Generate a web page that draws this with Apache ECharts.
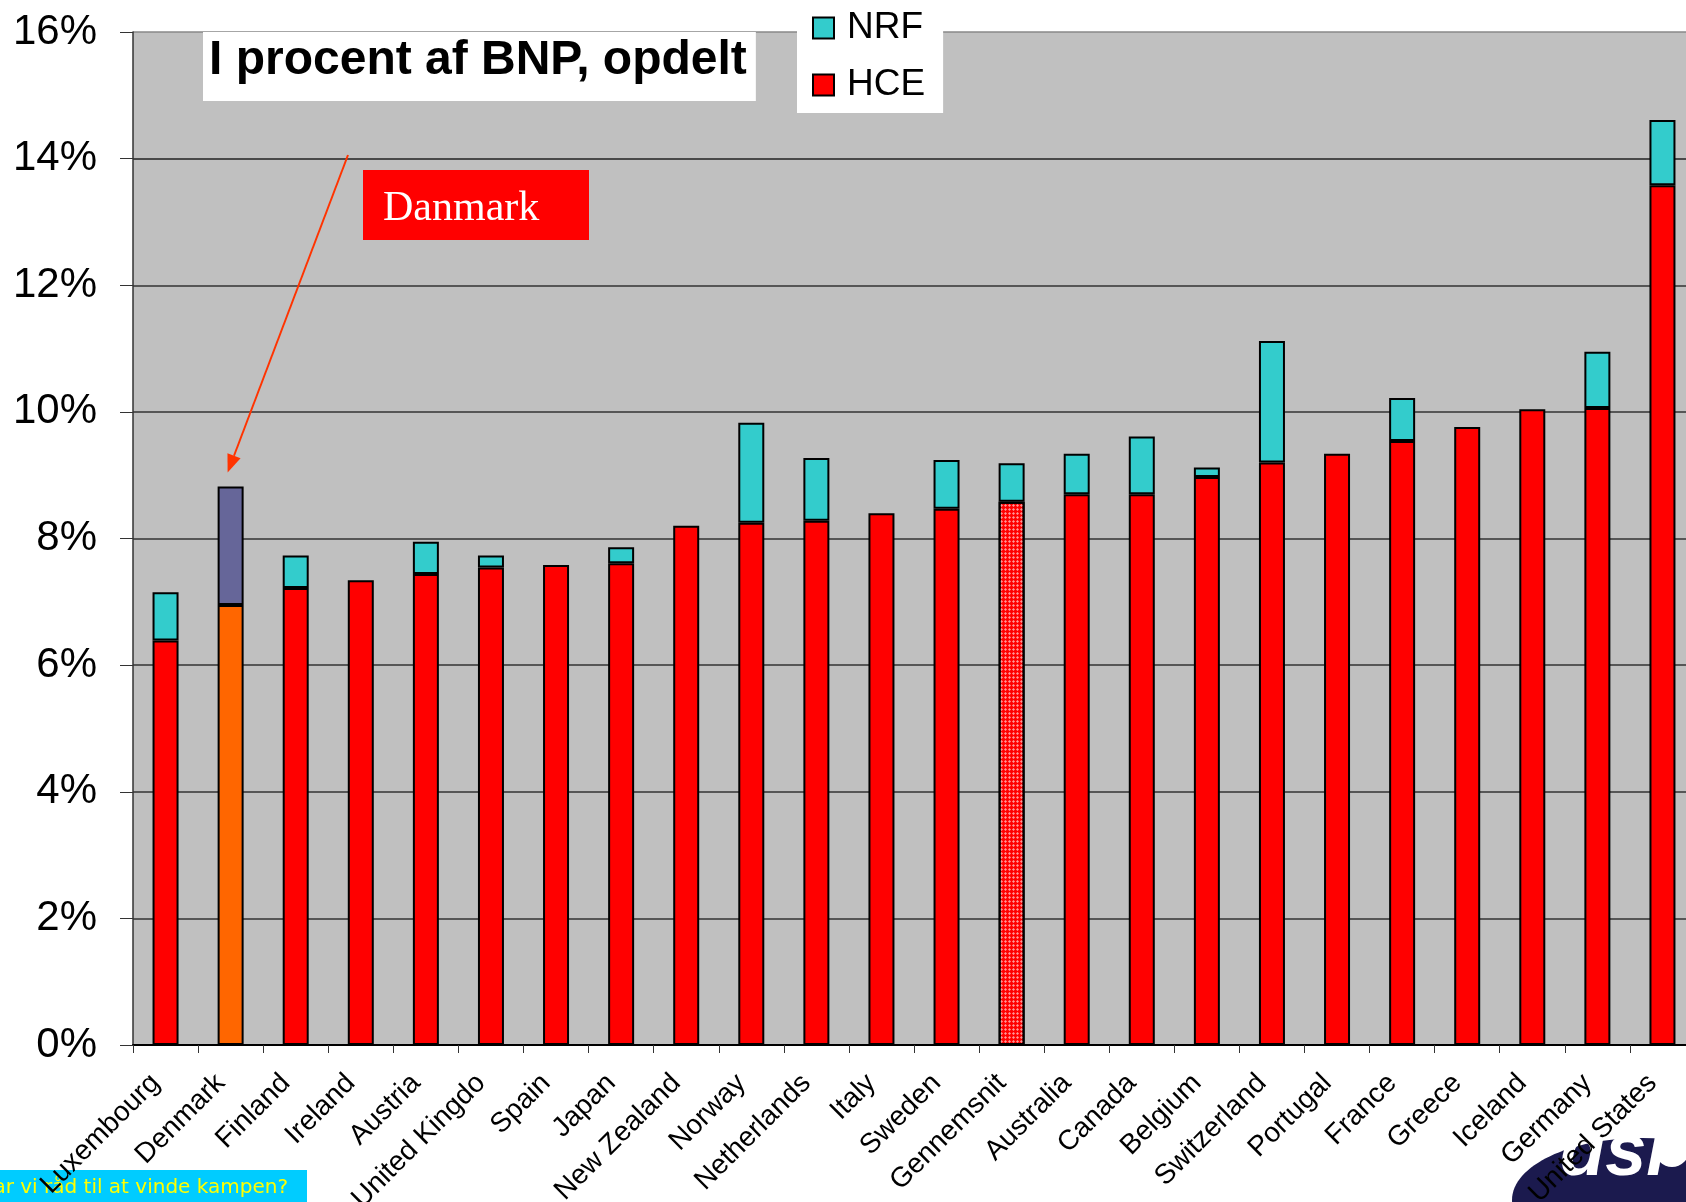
<!DOCTYPE html>
<html>
<head>
<meta charset="utf-8">
<title>I procent af BNP, opdelt</title>
<script src="https://cdn.jsdelivr.net/npm/echarts@6/dist/echarts.min.js"></script>
<style>
  html, body { margin: 0; padding: 0; background: #fff; }
  #chart { width: 1686px; height: 1202px; }
</style>
</head>
<body>
<div id="chart"></div>
<script>
// lande (x-akse)
var categories = ['Luxembourg', 'Denmark', 'Finland', 'Ireland', 'Austria', 'United Kingdo',
  'Spain', 'Japan', 'New Zealand', 'Norway', 'Netherlands', 'Italy', 'Sweden', 'Gennemsnit',
  'Australia', 'Canada', 'Belgium', 'Switzerland', 'Portugal', 'France', 'Greece', 'Iceland',
  'Germany', 'United States']

// HCE, % af BNP (nederste del)
var hceValues = [6.39, 6.95, 7.22, 7.34, 7.44, 7.54, 7.58, 7.61, 8.20, 8.25, 8.28, 8.40,
  8.47, 8.58, 8.70, 8.70, 8.97, 9.20, 9.34, 9.54, 9.76, 10.04, 10.06, 13.58]

// NRF, % af BNP (oven paa HCE), null = ingen
var nrfValues = [0.76, 1.87, 0.51, null, 0.51, 0.19, null, 0.25, null, 1.58, 0.99, null,
  0.77, 0.61, 0.64, 0.91, 0.15, 1.92, null, 0.68, null, null, 0.89, 1.03]

var yTicks = [0, 2, 4, 6, 8, 10, 12, 14, 16]

var chart = echarts.init(document.getElementById('chart'))

var FONT = 'Liberation Sans, Arial, sans-serif'

function hceData() {
  return hceValues.map(function(v, i) {
    if (categories[i] === 'Denmark') {
      return { value: v, itemStyle: { color: '#FF6600' } }
    }
    if (categories[i] === 'Gennemsnit') {
      return {
        value: v,
        itemStyle: {
          color: '#FF0000',
          decal: {
            symbol: 'diamond',
            symbolSize: 1,
            dashArrayX: [[3, 1]],
            dashArrayY: [3, 1],
            color: 'rgba(255,255,255,0.6)'
          }
        }
      }
    }
    return v
  })
}

function nrfData() {
  return nrfValues.map(function(v, i) {
    if (categories[i] === 'Denmark') {
      return { value: v, itemStyle: { color: '#666699' } }
    }
    return v
  })
}

chart.setOption({
  animation: false,
  backgroundColor: '#fff',
  title: {
    text: 'I procent af BNP, opdelt',
    left: 203,
    top: 32,
    backgroundColor: '#fff',
    padding: [3, 9, 14, 6],
    textStyle: {
      fontFamily: FONT,
      fontWeight: 'bold',
      fontSize: 48,
      lineHeight: 52,
      color: '#000'
    }
  },
  legend: {
    data: ['NRF', 'HCE'],
    orient: 'vertical',
    left: 797,
    top: 0,
    padding: [9, 18, 9, 15],
    itemGap: 19,
    itemWidth: 21,
    itemHeight: 21,
    icon: 'rect',
    backgroundColor: '#fff',
    itemStyle: { borderColor: '#000', borderWidth: 2 },
    textStyle: {
      fontFamily: FONT,
      fontSize: 37,
      lineHeight: 38,
      color: '#000',
      padding: [0, 0, 0, 8]
    }
  },
  grid: {
    left: 133,
    right: -9,
    top: 32,
    bottom: 157,
    outerBoundsMode: 'none',
    show: true,
    backgroundColor: '#C0C0C0',
    borderWidth: 0
  },
  xAxis: {
    type: 'category',
    data: categories,
    axisLine: { lineStyle: { color: '#000', width: 2 } },
    axisTick: { show: true, length: 8, lineStyle: { color: '#333', width: 1 } },
    axisLabel: {
      interval: 0,
      rotate: 45,
      margin: 24,
      padding: [0, 14, 0, 0],
      fontFamily: FONT,
      fontSize: 28,
      color: '#000'
    }
  },
  yAxis: {
    type: 'value',
    min: yTicks[0],
    max: yTicks[yTicks.length - 1],
    interval: 2,
    axisLine: { show: true, lineStyle: { color: '#333', width: 1.5 } },
    axisTick: { show: true, length: 13, lineStyle: { color: '#333', width: 1 } },
    axisLabel: {
      formatter: '{value}%',
      margin: 36,
      fontFamily: FONT,
      fontSize: 42,
      color: '#000'
    },
    splitLine: {
      show: true,
      lineStyle: {
        color: ['#333', '#333', '#333', '#333', '#333', '#333', '#333', '#222', '#888'],
        width: 1.5
      }
    }
  },
  series: [
    {
      name: 'HCE',
      type: 'bar',
      stack: 'bnp',
      barWidth: 26,
      itemStyle: { color: '#FF0000', borderColor: '#000', borderWidth: 2 },
      data: hceData()
    },
    {
      name: 'NRF',
      type: 'bar',
      stack: 'bnp',
      barWidth: 26,
      itemStyle: { color: '#33CCCC', borderColor: '#000', borderWidth: 2 },
      data: nrfData()
    }
  ]
})

// pil fra "Danmark"-boksen ned til Danmarks soejle
var dkIdx = categories.indexOf('Denmark')
var tip = chart.convertToPixel({ gridIndex: 0 }, [dkIdx, hceValues[dkIdx] + nrfValues[dkIdx]])
tip = [tip[0] - 3, tip[1] - 14]
var start = [348, 155]
var dx = tip[0] - start[0]
var dy = tip[1] - start[1]
var len = Math.sqrt(dx * dx + dy * dy)
var ux = dx / len
var uy = dy / len
var headLen = 18
var headW = 7
var base = [tip[0] - ux * headLen, tip[1] - uy * headLen]

chart.setOption({
  graphic: [
    {
      type: 'line',
      shape: { x1: start[0], y1: start[1], x2: base[0], y2: base[1] },
      style: { stroke: '#FF3300', lineWidth: 2 },
      z: 100
    },
    {
      type: 'polygon',
      shape: {
        points: [
          tip,
          [base[0] + uy * headW, base[1] - ux * headW],
          [base[0] - uy * headW, base[1] + ux * headW]
        ]
      },
      style: { fill: '#FF3300' },
      z: 100
    },
    {
      type: 'group',
      x: 363,
      y: 170,
      z: 100,
      children: [
        { type: 'rect', shape: { x: 0, y: 0, width: 226, height: 70 }, style: { fill: '#FF0000' } },
        {
          type: 'text',
          x: 20,
          y: 39,
          style: {
            text: 'Danmark',
            fill: '#fff',
            font: '42px "Liberation Serif", "Times New Roman", serif',
            textVerticalAlign: 'middle'
          }
        }
      ]
    },
    {
      // gult spoergsmaal nederst til venstre (afskaaret i kanten)
      type: 'group',
      x: 0,
      y: 1170,
      z: -10,
      children: [
        { type: 'rect', shape: { x: 0, y: 0, width: 307, height: 32 }, style: { fill: '#00CCFF' } },
        {
          type: 'text',
          x: 288,
          y: 18,
          style: {
            text: 'Har vi råd til at vinde kampen?',
            fill: '#FFFF00',
            font: '20px "DejaVu Sans", sans-serif',
            textAlign: 'right',
            textVerticalAlign: 'middle'
          }
        }
      ]
    },
    {
      // logo nederst til hoejre
      type: 'group',
      x: 0,
      y: 0,
      z: -10,
      children: [
        { type: 'ellipse', shape: { cx: 1642, cy: 1200, rx: 130, ry: 62 }, style: { fill: '#1B1A4E' } },
        { type: 'circle', shape: { cx: 1672, cy: 1150, r: 17 }, style: { fill: '#fff' } },
        {
          type: 'text',
          x: 1560,
          y: 1192,
          style: {
            text: 'dsi',
            fill: '#fff',
            font: 'italic bold 74px "Liberation Sans", Arial, sans-serif',
            textAlign: 'left',
            textVerticalAlign: 'bottom'
          }
        }
      ]
    }
  ]
})
</script>
</body>
</html>
